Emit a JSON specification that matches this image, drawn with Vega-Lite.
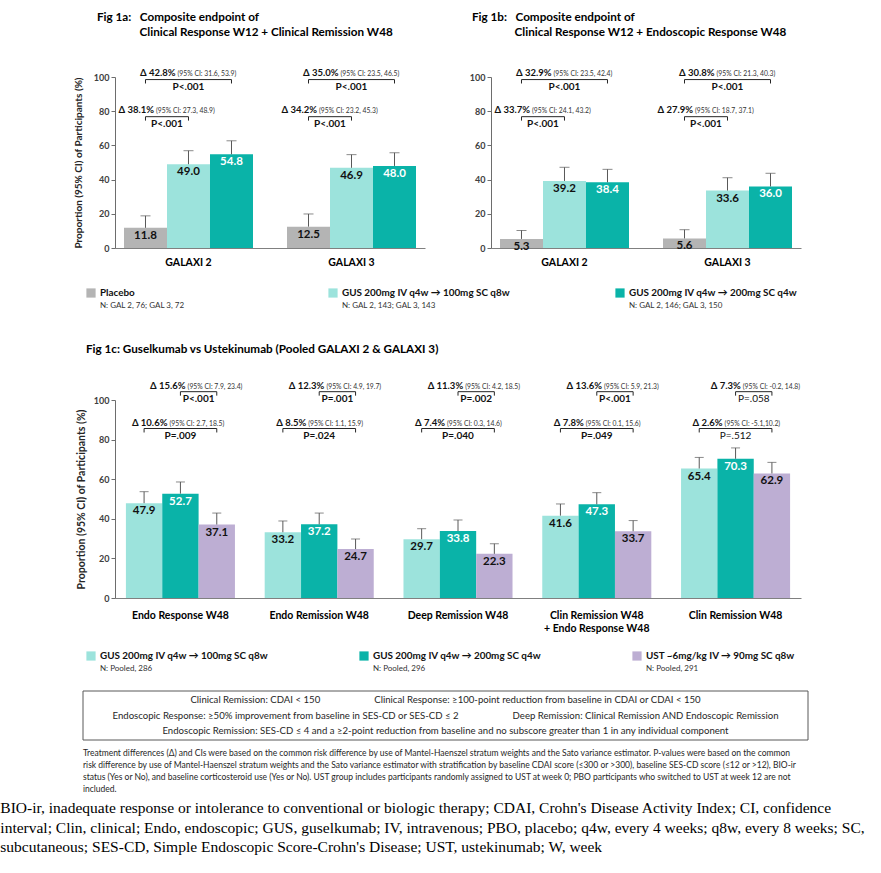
{
  "$schema": "https://vega.github.io/schema/vega-lite/v6.json",
  "padding": {"left": 0, "top": 12, "right": 0, "bottom": 0},
  "title": {
    "text": [
      "BIO-ir, inadequate response or intolerance to conventional or biologic therapy; CDAI, Crohn's Disease Activity Index; CI, confidence",
      "interval; Clin, clinical; Endo, endoscopic; GUS, guselkumab; IV, intravenous; PBO, placebo; q4w, every 4 weeks; q8w, every 8 weeks; SC,",
      "subcutaneous; SES-CD, Simple Endoscopic Score-Crohn's Disease; UST, ustekinumab; W, week"
    ],
    "orient": "bottom", "anchor": "start", "frame": "bounds", "dx": -73, "offset": 8,
    "font": "Liberation Serif", "fontSize": 15.5, "fontWeight": "normal", "lineHeight": 19.5, "color": "#000000"
  },
  "spacing": 33,
  "vconcat": [
    {
      "spacing": 20,
      "vconcat": [
        {
          "spacing": 44,
          "hconcat": [
            {
              "width": 310, "height": 171,
              "title": {
                "text": ["Fig 1a:\u00a0\u00a0\u00a0Composite endpoint of", "\u200b\u00a0\u00a0\u00a0\u00a0\u00a0\u00a0\u00a0\u00a0\u00a0\u00a0\u00a0\u00a0\u00a0\u00a0\u00a0Clinical Response W12 + Clinical Remission W48"],
                "anchor": "start", "frame": "group", "dx": -18, "offset": 29, "fontSize": 11.7, "fontWeight": "bold", "lineHeight": 15, "color": "#000000"
              },
              "layer": [
                {
                  "data": {"name": "bars1a"},
                  "mark": {"type": "bar"},
                  "encoding": {
                    "x": {"field": "group", "type": "nominal", "sort": ["GALAXI 2", "GALAXI 3"], "scale": {"paddingInner": 0.2086, "paddingOuter": 0.0552},
                      "axis": {"title": null, "labelAngle": 0, "ticks": false, "labelPadding": 9, "labelFontSize": 10.5, "labelFontWeight": "bold", "labelColor": "#000000", "domainColor": "#808080"}},
                    "xOffset": {"field": "series", "type": "nominal", "sort": ["Placebo", "GUS 200mg IV q4w → 100mg SC q8w", "GUS 200mg IV q4w → 200mg SC q4w"], "scale": {"type": "band", "paddingInner": 0, "paddingOuter": 0}},
                    "y": {"field": "value", "type": "quantitative", "scale": {"domain": [0, 100], "nice": false},
                      "axis": {"values": [0, 20, 40, 60, 80, 100], "labelOverlap": false, "title": "Proportion (95% CI) of Participants (%)", "titleFontSize": 10, "titlePadding": 10}},
                    "color": {"field": "series", "type": "nominal", "scale": {"domain": ["Placebo", "GUS 200mg IV q4w → 100mg SC q8w", "GUS 200mg IV q4w → 200mg SC q4w", "UST ~6mg/kg IV → 90mg SC q8w"], "range": ["#b4b4b4", "#9ce3dc", "#0ab3a8", "#bdaed3"]}, "legend": null}
                  }
                },
                {
                  "data": {"name": "bars1a"},
                  "mark": {"type": "rule", "color": "#595959", "strokeWidth": 1},
                  "encoding": {
                    "x": {"field": "group", "type": "nominal", "sort": ["GALAXI 2", "GALAXI 3"]},
                    "xOffset": {"field": "series", "type": "nominal", "sort": ["Placebo", "GUS 200mg IV q4w → 100mg SC q8w", "GUS 200mg IV q4w → 200mg SC q4w"], "scale": {"type": "band", "paddingInner": 0, "paddingOuter": 0}},
                    "y": {"field": "value", "type": "quantitative", "scale": {"domain": [0, 100], "nice": false}, "axis": {"values": [0, 20, 40, 60, 80, 100], "labelOverlap": false, "title": "Proportion (95% CI) of Participants (%)", "titleFontSize": 10, "titlePadding": 10}},
                    "y2": {"field": "hi"}
                  }
                },
                {
                  "data": {"name": "bars1a"},
                  "mark": {"type": "tick", "color": "#595959", "size": 10, "thickness": 1, "orient": "horizontal"},
                  "encoding": {
                    "x": {"field": "group", "type": "nominal", "sort": ["GALAXI 2", "GALAXI 3"]},
                    "xOffset": {"field": "series", "type": "nominal", "sort": ["Placebo", "GUS 200mg IV q4w → 100mg SC q8w", "GUS 200mg IV q4w → 200mg SC q4w"], "scale": {"type": "band", "paddingInner": 0, "paddingOuter": 0}},
                    "y": {"field": "hi", "type": "quantitative", "scale": {"domain": [0, 100], "nice": false}, "axis": {"values": [0, 20, 40, 60, 80, 100], "labelOverlap": false, "title": "Proportion (95% CI) of Participants (%)", "titleFontSize": 10, "titlePadding": 10}}
                  }
                },
                {
                  "data": {"name": "bars1a"},
                  "mark": {"type": "text", "baseline": "top", "dy": 2, "fontSize": 11.5, "fontWeight": "bold"},
                  "encoding": {
                    "x": {"field": "group", "type": "nominal", "sort": ["GALAXI 2", "GALAXI 3"]},
                    "xOffset": {"field": "series", "type": "nominal", "sort": ["Placebo", "GUS 200mg IV q4w → 100mg SC q8w", "GUS 200mg IV q4w → 200mg SC q4w"], "scale": {"type": "point", "padding": 0.5}},
                    "y": {"field": "value", "type": "quantitative", "scale": {"domain": [0, 100], "nice": false}, "axis": {"values": [0, 20, 40, 60, 80, 100], "labelOverlap": false, "title": "Proportion (95% CI) of Participants (%)", "titleFontSize": 10, "titlePadding": 10}},
                    "text": {"field": "value", "type": "quantitative", "format": ".1f"},
                    "color": {"condition": {"test": "datum.series === 'GUS 200mg IV q4w → 200mg SC q4w'", "value": "#ffffff"}, "value": "#111111"}
                  }
                },
                {
                  "data": {"name": "ann1a"},
                  "transform": [{"fold": ["from", "to"], "as": ["end", "pos"]}],
                  "mark": {"type": "line", "color": "#262626", "strokeWidth": 1},
                  "encoding": {
                    "x": {"field": "group", "type": "nominal", "sort": ["GALAXI 2", "GALAXI 3"]},
                    "xOffset": {"field": "pos", "type": "nominal", "scale": {"type": "point", "domain": ["e0", "c0", "e1", "c1", "e2", "c2", "e3"], "padding": 0}},
                    "y": {"field": "yLine", "type": "quantitative", "scale": {"domain": [0, 100], "nice": false}, "axis": {"values": [0, 20, 40, 60, 80, 100], "labelOverlap": false, "title": "Proportion (95% CI) of Participants (%)", "titleFontSize": 10, "titlePadding": 10}},
                    "detail": {"field": "bid"}
                  }
                },
                {
                  "data": {"name": "ann1a"},
                  "transform": [{"fold": ["from", "to"], "as": ["end", "pos"]}],
                  "mark": {"type": "rule", "color": "#262626", "strokeWidth": 1},
                  "encoding": {
                    "x": {"field": "group", "type": "nominal", "sort": ["GALAXI 2", "GALAXI 3"]},
                    "xOffset": {"field": "pos", "type": "nominal", "scale": {"type": "point", "domain": ["e0", "c0", "e1", "c1", "e2", "c2", "e3"], "padding": 0}},
                    "y": {"field": "yLine", "type": "quantitative", "scale": {"domain": [0, 100], "nice": false}, "axis": {"values": [0, 20, 40, 60, 80, 100], "labelOverlap": false, "title": "Proportion (95% CI) of Participants (%)", "titleFontSize": 10, "titlePadding": 10}},
                    "y2": {"field": "yLeg"}
                  }
                },
                {
                  "data": {"name": "ann1a"},
                  "mark": {"type": "text", "align": "right", "baseline": "alphabetic", "dx": -13, "dy": -3.5, "fontSize": 9.5, "fontWeight": "bold", "color": "#111111"},
                  "encoding": {
                    "x": {"field": "group", "type": "nominal", "sort": ["GALAXI 2", "GALAXI 3"]},
                    "xOffset": {"field": "mid", "type": "nominal", "scale": {"type": "point", "domain": ["e0", "c0", "e1", "c1", "e2", "c2", "e3"], "padding": 0}},
                    "y": {"field": "yLine", "type": "quantitative", "scale": {"domain": [0, 100], "nice": false}, "axis": {"values": [0, 20, 40, 60, 80, 100], "labelOverlap": false, "title": "Proportion (95% CI) of Participants (%)", "titleFontSize": 10, "titlePadding": 10}},
                    "text": {"field": "delta"}
                  }
                },
                {
                  "data": {"name": "ann1a"},
                  "mark": {"type": "text", "align": "left", "baseline": "alphabetic", "dx": -11, "dy": -3.5, "fontSize": 6.8, "color": "#333333"},
                  "encoding": {
                    "x": {"field": "group", "type": "nominal", "sort": ["GALAXI 2", "GALAXI 3"]},
                    "xOffset": {"field": "mid", "type": "nominal", "scale": {"type": "point", "domain": ["e0", "c0", "e1", "c1", "e2", "c2", "e3"], "padding": 0}},
                    "y": {"field": "yLine", "type": "quantitative", "scale": {"domain": [0, 100], "nice": false}, "axis": {"values": [0, 20, 40, 60, 80, 100], "labelOverlap": false, "title": "Proportion (95% CI) of Participants (%)", "titleFontSize": 10, "titlePadding": 10}},
                    "text": {"field": "ci"}
                  }
                },
                {
                  "data": {"name": "ann1a"},
                  "mark": {"type": "text", "align": "center", "baseline": "alphabetic", "dy": 10, "fontSize": 10, "fontWeight": "bold", "color": "#111111"},
                  "encoding": {
                    "x": {"field": "group", "type": "nominal", "sort": ["GALAXI 2", "GALAXI 3"]},
                    "xOffset": {"field": "mid", "type": "nominal", "scale": {"type": "point", "domain": ["e0", "c0", "e1", "c1", "e2", "c2", "e3"], "padding": 0}},
                    "y": {"field": "yLine", "type": "quantitative", "scale": {"domain": [0, 100], "nice": false}, "axis": {"values": [0, 20, 40, 60, 80, 100], "labelOverlap": false, "title": "Proportion (95% CI) of Participants (%)", "titleFontSize": 10, "titlePadding": 10}},
                    "text": {"field": "p"}
                  }
                }
              ],
              "resolve": {"scale": {"xOffset": "independent"}}
            },
            {
              "width": 310, "height": 171,
              "title": {
                "text": ["Fig 1b:\u00a0\u00a0\u00a0Composite endpoint of", "\u200b\u00a0\u00a0\u00a0\u00a0\u00a0\u00a0\u00a0\u00a0\u00a0\u00a0\u00a0\u00a0\u00a0\u00a0\u00a0Clinical Response W12 + Endoscopic Response W48"],
                "anchor": "start", "frame": "group", "dx": -19, "offset": 29, "fontSize": 11.7, "fontWeight": "bold", "lineHeight": 15, "color": "#000000"
              },
              "layer": [
                {
                  "data": {"name": "bars1b"},
                  "mark": {"type": "bar"},
                  "encoding": {
                    "x": {"field": "group", "type": "nominal", "sort": ["GALAXI 2", "GALAXI 3"], "scale": {"paddingInner": 0.2086, "paddingOuter": 0.0552},
                      "axis": {"title": null, "labelAngle": 0, "ticks": false, "labelPadding": 9, "labelFontSize": 10.5, "labelFontWeight": "bold", "labelColor": "#000000", "domainColor": "#808080"}},
                    "xOffset": {"field": "series", "type": "nominal", "sort": ["Placebo", "GUS 200mg IV q4w → 100mg SC q8w", "GUS 200mg IV q4w → 200mg SC q4w"], "scale": {"type": "band", "paddingInner": 0, "paddingOuter": 0}},
                    "y": {"field": "value", "type": "quantitative", "scale": {"domain": [0, 100], "nice": false}, "axis": {"values": [0, 20, 40, 60, 80, 100], "labelOverlap": false, "title": null}},
                    "color": {"field": "series", "type": "nominal", "scale": {"domain": ["Placebo", "GUS 200mg IV q4w → 100mg SC q8w", "GUS 200mg IV q4w → 200mg SC q4w", "UST ~6mg/kg IV → 90mg SC q8w"], "range": ["#b4b4b4", "#9ce3dc", "#0ab3a8", "#bdaed3"]}, "legend": null}
                  }
                },
                {
                  "data": {"name": "bars1b"},
                  "mark": {"type": "rule", "color": "#595959", "strokeWidth": 1},
                  "encoding": {
                    "x": {"field": "group", "type": "nominal", "sort": ["GALAXI 2", "GALAXI 3"]},
                    "xOffset": {"field": "series", "type": "nominal", "sort": ["Placebo", "GUS 200mg IV q4w → 100mg SC q8w", "GUS 200mg IV q4w → 200mg SC q4w"], "scale": {"type": "band", "paddingInner": 0, "paddingOuter": 0}},
                    "y": {"field": "value", "type": "quantitative", "scale": {"domain": [0, 100], "nice": false}, "axis": {"values": [0, 20, 40, 60, 80, 100], "labelOverlap": false, "title": null}},
                    "y2": {"field": "hi"}
                  }
                },
                {
                  "data": {"name": "bars1b"},
                  "mark": {"type": "tick", "color": "#595959", "size": 10, "thickness": 1, "orient": "horizontal"},
                  "encoding": {
                    "x": {"field": "group", "type": "nominal", "sort": ["GALAXI 2", "GALAXI 3"]},
                    "xOffset": {"field": "series", "type": "nominal", "sort": ["Placebo", "GUS 200mg IV q4w → 100mg SC q8w", "GUS 200mg IV q4w → 200mg SC q4w"], "scale": {"type": "band", "paddingInner": 0, "paddingOuter": 0}},
                    "y": {"field": "hi", "type": "quantitative", "scale": {"domain": [0, 100], "nice": false}, "axis": {"values": [0, 20, 40, 60, 80, 100], "labelOverlap": false, "title": null}}
                  }
                },
                {
                  "data": {"name": "bars1b"},
                  "mark": {"type": "text", "baseline": "top", "dy": 2, "fontSize": 11.5, "fontWeight": "bold"},
                  "encoding": {
                    "x": {"field": "group", "type": "nominal", "sort": ["GALAXI 2", "GALAXI 3"]},
                    "xOffset": {"field": "series", "type": "nominal", "sort": ["Placebo", "GUS 200mg IV q4w → 100mg SC q8w", "GUS 200mg IV q4w → 200mg SC q4w"], "scale": {"type": "point", "padding": 0.5}},
                    "y": {"field": "value", "type": "quantitative", "scale": {"domain": [0, 100], "nice": false}, "axis": {"values": [0, 20, 40, 60, 80, 100], "labelOverlap": false, "title": null}},
                    "text": {"field": "value", "type": "quantitative", "format": ".1f"},
                    "color": {"condition": {"test": "datum.series === 'GUS 200mg IV q4w → 200mg SC q4w'", "value": "#ffffff"}, "value": "#111111"}
                  }
                },
                {
                  "data": {"name": "ann1b"},
                  "transform": [{"fold": ["from", "to"], "as": ["end", "pos"]}],
                  "mark": {"type": "line", "color": "#262626", "strokeWidth": 1},
                  "encoding": {
                    "x": {"field": "group", "type": "nominal", "sort": ["GALAXI 2", "GALAXI 3"]},
                    "xOffset": {"field": "pos", "type": "nominal", "scale": {"type": "point", "domain": ["e0", "c0", "e1", "c1", "e2", "c2", "e3"], "padding": 0}},
                    "y": {"field": "yLine", "type": "quantitative", "scale": {"domain": [0, 100], "nice": false}, "axis": {"values": [0, 20, 40, 60, 80, 100], "labelOverlap": false, "title": null}},
                    "detail": {"field": "bid"}
                  }
                },
                {
                  "data": {"name": "ann1b"},
                  "transform": [{"fold": ["from", "to"], "as": ["end", "pos"]}],
                  "mark": {"type": "rule", "color": "#262626", "strokeWidth": 1},
                  "encoding": {
                    "x": {"field": "group", "type": "nominal", "sort": ["GALAXI 2", "GALAXI 3"]},
                    "xOffset": {"field": "pos", "type": "nominal", "scale": {"type": "point", "domain": ["e0", "c0", "e1", "c1", "e2", "c2", "e3"], "padding": 0}},
                    "y": {"field": "yLine", "type": "quantitative", "scale": {"domain": [0, 100], "nice": false}, "axis": {"values": [0, 20, 40, 60, 80, 100], "labelOverlap": false, "title": null}},
                    "y2": {"field": "yLeg"}
                  }
                },
                {
                  "data": {"name": "ann1b"},
                  "mark": {"type": "text", "align": "right", "baseline": "alphabetic", "dx": -13, "dy": -3.5, "fontSize": 9.5, "fontWeight": "bold", "color": "#111111"},
                  "encoding": {
                    "x": {"field": "group", "type": "nominal", "sort": ["GALAXI 2", "GALAXI 3"]},
                    "xOffset": {"field": "mid", "type": "nominal", "scale": {"type": "point", "domain": ["e0", "c0", "e1", "c1", "e2", "c2", "e3"], "padding": 0}},
                    "y": {"field": "yLine", "type": "quantitative", "scale": {"domain": [0, 100], "nice": false}, "axis": {"values": [0, 20, 40, 60, 80, 100], "labelOverlap": false, "title": null}},
                    "text": {"field": "delta"}
                  }
                },
                {
                  "data": {"name": "ann1b"},
                  "mark": {"type": "text", "align": "left", "baseline": "alphabetic", "dx": -11, "dy": -3.5, "fontSize": 6.8, "color": "#333333"},
                  "encoding": {
                    "x": {"field": "group", "type": "nominal", "sort": ["GALAXI 2", "GALAXI 3"]},
                    "xOffset": {"field": "mid", "type": "nominal", "scale": {"type": "point", "domain": ["e0", "c0", "e1", "c1", "e2", "c2", "e3"], "padding": 0}},
                    "y": {"field": "yLine", "type": "quantitative", "scale": {"domain": [0, 100], "nice": false}, "axis": {"values": [0, 20, 40, 60, 80, 100], "labelOverlap": false, "title": null}},
                    "text": {"field": "ci"}
                  }
                },
                {
                  "data": {"name": "ann1b"},
                  "mark": {"type": "text", "align": "center", "baseline": "alphabetic", "dy": 10, "fontSize": 10, "fontWeight": "bold", "color": "#111111"},
                  "encoding": {
                    "x": {"field": "group", "type": "nominal", "sort": ["GALAXI 2", "GALAXI 3"]},
                    "xOffset": {"field": "mid", "type": "nominal", "scale": {"type": "point", "domain": ["e0", "c0", "e1", "c1", "e2", "c2", "e3"], "padding": 0}},
                    "y": {"field": "yLine", "type": "quantitative", "scale": {"domain": [0, 100], "nice": false}, "axis": {"values": [0, 20, 40, 60, 80, 100], "labelOverlap": false, "title": null}},
                    "text": {"field": "p"}
                  }
                }
              ],
              "resolve": {"scale": {"xOffset": "independent"}}
            }
          ]
        },
        {
          "spacing": 104,
          "hconcat": [
            {
              "width": 242, "height": 10,
              "data": {"name": "leg1a"},
              "encoding": {"x": {"field": "item", "type": "nominal", "sort": null, "scale": {"type": "point", "padding": 0, "range": [-24, 218]}, "axis": null}},
              "layer": [
                {"mark": {"type": "point", "shape": "square", "filled": true, "size": 85, "opacity": 1},
                 "encoding": {"color": {"field": "item", "type": "nominal", "scale": {"domain": ["Placebo", "GUS 200mg IV q4w → 100mg SC q8w", "GUS 200mg IV q4w → 200mg SC q4w", "UST ~6mg/kg IV → 90mg SC q8w"], "range": ["#b4b4b4", "#9ce3dc", "#0ab3a8", "#bdaed3"]}, "legend": null}}},
                {"mark": {"type": "text", "align": "left", "baseline": "middle", "dx": 9, "fontSize": 9.9, "fontWeight": "bold", "color": "#111111"},
                 "encoding": {"text": {"field": "item"}}},
                {"mark": {"type": "text", "align": "left", "baseline": "middle", "dx": 9, "dy": 13, "fontSize": 8, "color": "#333333"},
                 "encoding": {"text": {"field": "n"}}}
              ]
            },
            {
              "width": 10, "height": 10,
              "data": {"name": "leg1b"},
              "layer": [
                {"mark": {"type": "point", "shape": "square", "filled": true, "size": 85, "opacity": 1, "color": "#0ab3a8"}},
                {"mark": {"type": "text", "align": "left", "baseline": "middle", "dx": 9, "fontSize": 9.9, "fontWeight": "bold", "color": "#111111"},
                 "encoding": {"text": {"field": "item"}}},
                {"mark": {"type": "text", "align": "left", "baseline": "middle", "dx": 9, "dy": 13, "fontSize": 8, "color": "#333333"},
                 "encoding": {"text": {"field": "n"}}}
              ]
            }
          ]
        }
      ]
    },
    {
      "spacing": 17,
      "vconcat": [
        {
          "width": 686, "height": 198,
          "title": {
            "text": "Fig 1c: Guselkumab vs Ustekinumab (Pooled GALAXI 2 & GALAXI 3)",
            "anchor": "start", "frame": "group", "dx": -29, "offset": 25, "fontSize": 11.7, "fontWeight": "bold", "color": "#000000"
          },
          "layer": [
            {
              "data": {"name": "bars1c"},
              "mark": {"type": "bar"},
              "encoding": {
                "x": {"field": "group", "type": "nominal", "sort": ["Endo Response W48", "Endo Remission W48", "Deep Remission W48", "Clin Remission W48 + Endo Response W48", "Clin Remission W48"], "scale": {"paddingInner": 0.2143, "paddingOuter": 0.0786},
                  "axis": {"title": null, "labelAngle": 0, "ticks": false, "labelPadding": 12, "labelFontSize": 10.5, "labelFontWeight": "bold", "labelColor": "#000000", "domainColor": "#808080", "labelLineHeight": 13,
                    "labelExpr": "indexof(datum.label, ' + ') > 0 ? [substring(datum.label, 0, indexof(datum.label, ' + ')), substring(datum.label, indexof(datum.label, ' + ') + 1)] : datum.label"}},
                "xOffset": {"field": "series", "type": "nominal", "sort": ["GUS 200mg IV q4w → 100mg SC q8w", "GUS 200mg IV q4w → 200mg SC q4w", "UST ~6mg/kg IV → 90mg SC q8w"], "scale": {"type": "band", "paddingInner": 0, "paddingOuter": 0}},
                "y": {"field": "value", "type": "quantitative", "scale": {"domain": [0, 100], "nice": false}, "axis": {"values": [0, 20, 40, 60, 80, 100], "labelOverlap": false, "title": "Proportion (95% CI) of Participants (%)", "titleFontSize": 10.5, "titlePadding": 7}},
                "color": {"field": "series", "type": "nominal", "scale": {"domain": ["Placebo", "GUS 200mg IV q4w → 100mg SC q8w", "GUS 200mg IV q4w → 200mg SC q4w", "UST ~6mg/kg IV → 90mg SC q8w"], "range": ["#b4b4b4", "#9ce3dc", "#0ab3a8", "#bdaed3"]}, "legend": null}
              }
            },
            {
              "data": {"name": "bars1c"},
              "mark": {"type": "rule", "color": "#595959", "strokeWidth": 1},
              "encoding": {
                "x": {"field": "group", "type": "nominal", "sort": ["Endo Response W48", "Endo Remission W48", "Deep Remission W48", "Clin Remission W48 + Endo Response W48", "Clin Remission W48"]},
                "xOffset": {"field": "series", "type": "nominal", "sort": ["GUS 200mg IV q4w → 100mg SC q8w", "GUS 200mg IV q4w → 200mg SC q4w", "UST ~6mg/kg IV → 90mg SC q8w"], "scale": {"type": "band", "paddingInner": 0, "paddingOuter": 0}},
                "y": {"field": "value", "type": "quantitative", "scale": {"domain": [0, 100], "nice": false}, "axis": {"values": [0, 20, 40, 60, 80, 100], "labelOverlap": false, "title": "Proportion (95% CI) of Participants (%)", "titleFontSize": 10.5, "titlePadding": 7}},
                "y2": {"field": "hi"}
              }
            },
            {
              "data": {"name": "bars1c"},
              "mark": {"type": "tick", "color": "#595959", "size": 9, "thickness": 1, "orient": "horizontal"},
              "encoding": {
                "x": {"field": "group", "type": "nominal", "sort": ["Endo Response W48", "Endo Remission W48", "Deep Remission W48", "Clin Remission W48 + Endo Response W48", "Clin Remission W48"]},
                "xOffset": {"field": "series", "type": "nominal", "sort": ["GUS 200mg IV q4w → 100mg SC q8w", "GUS 200mg IV q4w → 200mg SC q4w", "UST ~6mg/kg IV → 90mg SC q8w"], "scale": {"type": "band", "paddingInner": 0, "paddingOuter": 0}},
                "y": {"field": "hi", "type": "quantitative", "scale": {"domain": [0, 100], "nice": false}, "axis": {"values": [0, 20, 40, 60, 80, 100], "labelOverlap": false, "title": "Proportion (95% CI) of Participants (%)", "titleFontSize": 10.5, "titlePadding": 7}}
              }
            },
            {
              "data": {"name": "bars1c"},
              "mark": {"type": "text", "baseline": "top", "dy": 2, "fontSize": 11.5, "fontWeight": "bold"},
              "encoding": {
                "x": {"field": "group", "type": "nominal", "sort": ["Endo Response W48", "Endo Remission W48", "Deep Remission W48", "Clin Remission W48 + Endo Response W48", "Clin Remission W48"]},
                "xOffset": {"field": "series", "type": "nominal", "sort": ["GUS 200mg IV q4w → 100mg SC q8w", "GUS 200mg IV q4w → 200mg SC q4w", "UST ~6mg/kg IV → 90mg SC q8w"], "scale": {"type": "point", "padding": 0.5}},
                "y": {"field": "value", "type": "quantitative", "scale": {"domain": [0, 100], "nice": false}, "axis": {"values": [0, 20, 40, 60, 80, 100], "labelOverlap": false, "title": "Proportion (95% CI) of Participants (%)", "titleFontSize": 10.5, "titlePadding": 7}},
                "text": {"field": "value", "type": "quantitative", "format": ".1f"},
                "color": {"condition": {"test": "datum.series === 'GUS 200mg IV q4w → 200mg SC q4w'", "value": "#ffffff"}, "value": "#111111"}
              }
            },
            {
              "data": {"name": "ann1c"},
              "transform": [{"fold": ["from", "to"], "as": ["end", "pos"]}],
              "mark": {"type": "line", "color": "#262626", "strokeWidth": 1},
              "encoding": {
                "x": {"field": "group", "type": "nominal", "sort": ["Endo Response W48", "Endo Remission W48", "Deep Remission W48", "Clin Remission W48 + Endo Response W48", "Clin Remission W48"]},
                "xOffset": {"field": "pos", "type": "nominal", "scale": {"type": "point", "domain": ["e0", "c0", "e1", "c1", "e2", "c2", "e3"], "padding": 0}},
                "y": {"field": "yLine", "type": "quantitative", "scale": {"domain": [0, 100], "nice": false}, "axis": {"values": [0, 20, 40, 60, 80, 100], "labelOverlap": false, "title": "Proportion (95% CI) of Participants (%)", "titleFontSize": 10.5, "titlePadding": 7}},
                "detail": {"field": "bid"}
              }
            },
            {
              "data": {"name": "ann1c"},
              "transform": [{"fold": ["from", "to"], "as": ["end", "pos"]}],
              "mark": {"type": "rule", "color": "#262626", "strokeWidth": 1},
              "encoding": {
                "x": {"field": "group", "type": "nominal", "sort": ["Endo Response W48", "Endo Remission W48", "Deep Remission W48", "Clin Remission W48 + Endo Response W48", "Clin Remission W48"]},
                "xOffset": {"field": "pos", "type": "nominal", "scale": {"type": "point", "domain": ["e0", "c0", "e1", "c1", "e2", "c2", "e3"], "padding": 0}},
                "y": {"field": "yLine", "type": "quantitative", "scale": {"domain": [0, 100], "nice": false}, "axis": {"values": [0, 20, 40, 60, 80, 100], "labelOverlap": false, "title": "Proportion (95% CI) of Participants (%)", "titleFontSize": 10.5, "titlePadding": 7}},
                "y2": {"field": "yLeg"}
              }
            },
            {
              "data": {"name": "ann1c"},
              "mark": {"type": "text", "align": "right", "baseline": "alphabetic", "dx": -13, "dy": -3, "fontSize": 9.5, "fontWeight": "bold", "color": "#111111"},
              "encoding": {
                "x": {"field": "group", "type": "nominal", "sort": ["Endo Response W48", "Endo Remission W48", "Deep Remission W48", "Clin Remission W48 + Endo Response W48", "Clin Remission W48"]},
                "xOffset": {"field": "mid", "type": "nominal", "scale": {"type": "point", "domain": ["e0", "c0", "e1", "c1", "e2", "c2", "e3"], "padding": 0}},
                "y": {"field": "yLine", "type": "quantitative", "scale": {"domain": [0, 100], "nice": false}, "axis": {"values": [0, 20, 40, 60, 80, 100], "labelOverlap": false, "title": "Proportion (95% CI) of Participants (%)", "titleFontSize": 10.5, "titlePadding": 7}},
                "text": {"field": "delta"}
              }
            },
            {
              "data": {"name": "ann1c"},
              "mark": {"type": "text", "align": "left", "baseline": "alphabetic", "dx": -11, "dy": -3, "fontSize": 6.8, "color": "#333333"},
              "encoding": {
                "x": {"field": "group", "type": "nominal", "sort": ["Endo Response W48", "Endo Remission W48", "Deep Remission W48", "Clin Remission W48 + Endo Response W48", "Clin Remission W48"]},
                "xOffset": {"field": "mid", "type": "nominal", "scale": {"type": "point", "domain": ["e0", "c0", "e1", "c1", "e2", "c2", "e3"], "padding": 0}},
                "y": {"field": "yLine", "type": "quantitative", "scale": {"domain": [0, 100], "nice": false}, "axis": {"values": [0, 20, 40, 60, 80, 100], "labelOverlap": false, "title": "Proportion (95% CI) of Participants (%)", "titleFontSize": 10.5, "titlePadding": 7}},
                "text": {"field": "ci"}
              }
            },
            {
              "data": {"name": "ann1c"},
              "transform": [{"filter": "datum.sig"}],
              "mark": {"type": "text", "align": "center", "baseline": "alphabetic", "dy": 10, "fontSize": 10, "fontWeight": "bold", "color": "#111111"},
              "encoding": {
                "x": {"field": "group", "type": "nominal", "sort": ["Endo Response W48", "Endo Remission W48", "Deep Remission W48", "Clin Remission W48 + Endo Response W48", "Clin Remission W48"]},
                "xOffset": {"field": "mid", "type": "nominal", "scale": {"type": "point", "domain": ["e0", "c0", "e1", "c1", "e2", "c2", "e3"], "padding": 0}},
                "y": {"field": "yLine", "type": "quantitative", "scale": {"domain": [0, 100], "nice": false}, "axis": {"values": [0, 20, 40, 60, 80, 100], "labelOverlap": false, "title": "Proportion (95% CI) of Participants (%)", "titleFontSize": 10.5, "titlePadding": 7}},
                "text": {"field": "p"}
              }
            },
            {
              "data": {"name": "ann1c"},
              "transform": [{"filter": "!datum.sig"}],
              "mark": {"type": "text", "align": "center", "baseline": "alphabetic", "dy": 10, "fontSize": 10, "fontWeight": "normal", "color": "#111111"},
              "encoding": {
                "x": {"field": "group", "type": "nominal", "sort": ["Endo Response W48", "Endo Remission W48", "Deep Remission W48", "Clin Remission W48 + Endo Response W48", "Clin Remission W48"]},
                "xOffset": {"field": "mid", "type": "nominal", "scale": {"type": "point", "domain": ["e0", "c0", "e1", "c1", "e2", "c2", "e3"], "padding": 0}},
                "y": {"field": "yLine", "type": "quantitative", "scale": {"domain": [0, 100], "nice": false}, "axis": {"values": [0, 20, 40, 60, 80, 100], "labelOverlap": false, "title": "Proportion (95% CI) of Participants (%)", "titleFontSize": 10.5, "titlePadding": 7}},
                "text": {"field": "p"}
              }
            }
          ],
          "resolve": {"scale": {"xOffset": "independent"}}
        },
        {
          "width": 546, "height": 10,
          "data": {"name": "leg2"},
          "encoding": {"x": {"field": "item", "type": "nominal", "sort": null, "scale": {"type": "point", "padding": 0, "range": [-24, 522]}, "axis": null}},
          "layer": [
            {"mark": {"type": "point", "shape": "square", "filled": true, "size": 85, "opacity": 1},
             "encoding": {"color": {"field": "item", "type": "nominal", "scale": {"domain": ["Placebo", "GUS 200mg IV q4w → 100mg SC q8w", "GUS 200mg IV q4w → 200mg SC q4w", "UST ~6mg/kg IV → 90mg SC q8w"], "range": ["#b4b4b4", "#9ce3dc", "#0ab3a8", "#bdaed3"]}, "legend": null}}},
            {"mark": {"type": "text", "align": "left", "baseline": "middle", "dx": 9, "fontSize": 9.9, "fontWeight": "bold", "color": "#111111"},
             "encoding": {"text": {"field": "item"}}},
            {"mark": {"type": "text", "align": "left", "baseline": "middle", "dx": 9, "dy": 13, "fontSize": 8, "color": "#333333"},
             "encoding": {"text": {"field": "n"}}}
          ]
        },
        {
          "width": 693, "height": 49,
          "title": {
            "text": [
              "Treatment differences (Δ) and CIs were based on the common risk difference by use of Mantel-Haenszel stratum weights and the Sato variance estimator. P-values were based on the common",
              "risk difference by use of Mantel-Haenszel stratum weights and the Sato variance estimator with stratification by baseline CDAI score (≤300 or >300), baseline SES-CD score (≤12 or >12), BIO-ir",
              "status (Yes or No), and baseline corticosteroid use (Yes or No). UST group includes participants randomly assigned to UST at week 0; PBO participants who switched to UST at week 12 are not",
              "included."
            ],
            "orient": "bottom", "anchor": "start", "frame": "group", "dx": -32, "offset": 8, "fontSize": 8.5, "fontWeight": "normal", "lineHeight": 12, "color": "#262626"
          },
          "layer": [
            {
              "data": {"name": "box"},
              "mark": {"type": "rect", "fill": null, "stroke": "#595959", "strokeWidth": 1},
              "encoding": {
                "x": {"datum": 0, "type": "quantitative", "scale": {"domain": [0, 1], "range": [-32, 693], "nice": false, "zero": false}, "axis": null},
                "x2": {"datum": 1}
              }
            },
            {
              "data": {"name": "defs"},
              "mark": {"type": "text", "fontSize": 9.6, "color": "#262626"},
              "encoding": {
                "x": {"datum": 0.5, "type": "quantitative"},
                "y": {"field": "line", "type": "ordinal", "scale": {"padding": 0.55}, "axis": null},
                "text": {"field": "text"}
              }
            }
          ]
        }
      ]
    }
  ],
  "datasets": {
    "bars1a": [
      {"group": "GALAXI 2", "series": "Placebo", "value": 11.8, "hi": 18.8},
      {"group": "GALAXI 2", "series": "GUS 200mg IV q4w → 100mg SC q8w", "value": 49.0, "hi": 56.9},
      {"group": "GALAXI 2", "series": "GUS 200mg IV q4w → 200mg SC q4w", "value": 54.8, "hi": 62.7},
      {"group": "GALAXI 3", "series": "Placebo", "value": 12.5, "hi": 19.9},
      {"group": "GALAXI 3", "series": "GUS 200mg IV q4w → 100mg SC q8w", "value": 46.9, "hi": 54.6},
      {"group": "GALAXI 3", "series": "GUS 200mg IV q4w → 200mg SC q4w", "value": 48.0, "hi": 55.7}
    ],
    "bars1b": [
      {"group": "GALAXI 2", "series": "Placebo", "value": 5.3, "hi": 10.3},
      {"group": "GALAXI 2", "series": "GUS 200mg IV q4w → 100mg SC q8w", "value": 39.2, "hi": 47.2},
      {"group": "GALAXI 2", "series": "GUS 200mg IV q4w → 200mg SC q4w", "value": 38.4, "hi": 46.0},
      {"group": "GALAXI 3", "series": "Placebo", "value": 5.6, "hi": 10.7},
      {"group": "GALAXI 3", "series": "GUS 200mg IV q4w → 100mg SC q8w", "value": 33.6, "hi": 41.1},
      {"group": "GALAXI 3", "series": "GUS 200mg IV q4w → 200mg SC q4w", "value": 36.0, "hi": 43.7}
    ],
    "bars1c": [
      {"group": "Endo Response W48", "series": "GUS 200mg IV q4w → 100mg SC q8w", "value": 47.9, "hi": 53.7},
      {"group": "Endo Response W48", "series": "GUS 200mg IV q4w → 200mg SC q4w", "value": 52.7, "hi": 58.6},
      {"group": "Endo Response W48", "series": "UST ~6mg/kg IV → 90mg SC q8w", "value": 37.1, "hi": 42.9},
      {"group": "Endo Remission W48", "series": "GUS 200mg IV q4w → 100mg SC q8w", "value": 33.2, "hi": 38.9},
      {"group": "Endo Remission W48", "series": "GUS 200mg IV q4w → 200mg SC q4w", "value": 37.2, "hi": 42.9},
      {"group": "Endo Remission W48", "series": "UST ~6mg/kg IV → 90mg SC q8w", "value": 24.7, "hi": 29.8},
      {"group": "Deep Remission W48", "series": "GUS 200mg IV q4w → 100mg SC q8w", "value": 29.7, "hi": 35.0},
      {"group": "Deep Remission W48", "series": "GUS 200mg IV q4w → 200mg SC q4w", "value": 33.8, "hi": 39.4},
      {"group": "Deep Remission W48", "series": "UST ~6mg/kg IV → 90mg SC q8w", "value": 22.3, "hi": 27.4},
      {"group": "Clin Remission W48 + Endo Response W48", "series": "GUS 200mg IV q4w → 100mg SC q8w", "value": 41.6, "hi": 47.5},
      {"group": "Clin Remission W48 + Endo Response W48", "series": "GUS 200mg IV q4w → 200mg SC q4w", "value": 47.3, "hi": 53.2},
      {"group": "Clin Remission W48 + Endo Response W48", "series": "UST ~6mg/kg IV → 90mg SC q8w", "value": 33.7, "hi": 39.1},
      {"group": "Clin Remission W48", "series": "GUS 200mg IV q4w → 100mg SC q8w", "value": 65.4, "hi": 71.0},
      {"group": "Clin Remission W48", "series": "GUS 200mg IV q4w → 200mg SC q4w", "value": 70.3, "hi": 75.8},
      {"group": "Clin Remission W48", "series": "UST ~6mg/kg IV → 90mg SC q8w", "value": 62.9, "hi": 68.5}
    ],
    "ann1a": [
      {"group": "GALAXI 2", "bid": "g2u", "from": "c0", "to": "c2", "mid": "c1", "yLine": 98.5, "yLeg": 96.2, "delta": "Δ 42.8%", "ci": "(95% CI: 31.6, 53.9)", "p": "P<.001", "sig": true},
      {"group": "GALAXI 2", "bid": "g2l", "from": "c0", "to": "c1", "mid": "e1", "yLine": 76.8, "yLeg": 74.5, "delta": "Δ 38.1%", "ci": "(95% CI: 27.3, 48.9)", "p": "P<.001", "sig": true},
      {"group": "GALAXI 3", "bid": "g3u", "from": "c0", "to": "c2", "mid": "c1", "yLine": 98.5, "yLeg": 96.2, "delta": "Δ 35.0%", "ci": "(95% CI: 23.5, 46.5)", "p": "P<.001", "sig": true},
      {"group": "GALAXI 3", "bid": "g3l", "from": "c0", "to": "c1", "mid": "e1", "yLine": 76.8, "yLeg": 74.5, "delta": "Δ 34.2%", "ci": "(95% CI: 23.2, 45.3)", "p": "P<.001", "sig": true}
    ],
    "ann1b": [
      {"group": "GALAXI 2", "bid": "g2u", "from": "c0", "to": "c2", "mid": "c1", "yLine": 98.5, "yLeg": 96.2, "delta": "Δ 32.9%", "ci": "(95% CI: 23.5, 42.4)", "p": "P<.001", "sig": true},
      {"group": "GALAXI 2", "bid": "g2l", "from": "c0", "to": "c1", "mid": "e1", "yLine": 76.8, "yLeg": 74.5, "delta": "Δ 33.7%", "ci": "(95% CI: 24.1, 43.2)", "p": "P<.001", "sig": true},
      {"group": "GALAXI 3", "bid": "g3u", "from": "c0", "to": "c2", "mid": "c1", "yLine": 98.5, "yLeg": 96.2, "delta": "Δ 30.8%", "ci": "(95% CI: 21.3, 40.3)", "p": "P<.001", "sig": true},
      {"group": "GALAXI 3", "bid": "g3l", "from": "c0", "to": "c1", "mid": "e1", "yLine": 76.8, "yLeg": 74.5, "delta": "Δ 27.9%", "ci": "(95% CI: 18.7, 37.1)", "p": "P<.001", "sig": true}
    ],
    "ann1c": [
      {"group": "Endo Response W48", "bid": "e1u", "from": "c1", "to": "c2", "mid": "e2", "yLine": 104.2, "yLeg": 102.2, "delta": "Δ 15.6%", "ci": "(95% CI: 7.9, 23.4)", "p": "P<.001", "sig": true},
      {"group": "Endo Response W48", "bid": "e1l", "from": "c0", "to": "c2", "mid": "c1", "yLine": 85.6, "yLeg": 83.6, "delta": "Δ 10.6%", "ci": "(95% CI: 2.7, 18.5)", "p": "P=.009", "sig": true},
      {"group": "Endo Remission W48", "bid": "e2u", "from": "c1", "to": "c2", "mid": "e2", "yLine": 104.2, "yLeg": 102.2, "delta": "Δ 12.3%", "ci": "(95% CI: 4.9, 19.7)", "p": "P=.001", "sig": true},
      {"group": "Endo Remission W48", "bid": "e2l", "from": "c0", "to": "c2", "mid": "c1", "yLine": 85.6, "yLeg": 83.6, "delta": "Δ 8.5%", "ci": "(95% CI: 1.1, 15.9)", "p": "P=.024", "sig": true},
      {"group": "Deep Remission W48", "bid": "e3u", "from": "c1", "to": "c2", "mid": "e2", "yLine": 104.2, "yLeg": 102.2, "delta": "Δ 11.3%", "ci": "(95% CI: 4.2, 18.5)", "p": "P=.002", "sig": true},
      {"group": "Deep Remission W48", "bid": "e3l", "from": "c0", "to": "c2", "mid": "c1", "yLine": 85.6, "yLeg": 83.6, "delta": "Δ 7.4%", "ci": "(95% CI: 0.3, 14.6)", "p": "P=.040", "sig": true},
      {"group": "Clin Remission W48 + Endo Response W48", "bid": "e4u", "from": "c1", "to": "c2", "mid": "e2", "yLine": 104.2, "yLeg": 102.2, "delta": "Δ 13.6%", "ci": "(95% CI: 5.9, 21.3)", "p": "P<.001", "sig": true},
      {"group": "Clin Remission W48 + Endo Response W48", "bid": "e4l", "from": "c0", "to": "c2", "mid": "c1", "yLine": 85.6, "yLeg": 83.6, "delta": "Δ 7.8%", "ci": "(95% CI: 0.1, 15.6)", "p": "P=.049", "sig": true},
      {"group": "Clin Remission W48", "bid": "e5u", "from": "c1", "to": "c2", "mid": "e2", "yLine": 104.2, "yLeg": 102.2, "delta": "Δ 7.3%", "ci": "(95% CI: -0.2, 14.8)", "p": "P=.058", "sig": false},
      {"group": "Clin Remission W48", "bid": "e5l", "from": "c0", "to": "c2", "mid": "c1", "yLine": 85.6, "yLeg": 83.6, "delta": "Δ 2.6%", "ci": "(95% CI: -5.1,10.2)", "p": "P=.512", "sig": false}
    ],
    "leg1a": [
      {"item": "Placebo", "n": "N: GAL 2, 76; GAL 3, 72"},
      {"item": "GUS 200mg IV q4w → 100mg SC q8w", "n": "N: GAL 2, 143; GAL 3, 143"}
    ],
    "leg1b": [
      {"item": "GUS 200mg IV q4w → 200mg SC q4w", "n": "N: GAL 2, 146; GAL 3, 150"}
    ],
    "leg2": [
      {"item": "GUS 200mg IV q4w → 100mg SC q8w", "n": "N: Pooled, 286"},
      {"item": "GUS 200mg IV q4w → 200mg SC q4w", "n": "N: Pooled, 296"},
      {"item": "UST ~6mg/kg IV → 90mg SC q8w", "n": "N: Pooled, 291"}
    ],
    "box": [
      {"block": "Definitions"}
    ],
    "defs": [
      {"line": 1, "text": "Clinical Remission: CDAI < 150\u00a0\u00a0\u00a0\u00a0\u00a0\u00a0\u00a0\u00a0\u00a0\u00a0\u00a0\u00a0\u00a0\u00a0\u00a0\u00a0\u00a0\u00a0\u00a0\u00a0\u00a0\u00a0Clinical Response: ≥100-point reduction from baseline in CDAI or CDAI < 150"},
      {"line": 2, "text": "Endoscopic Response: ≥50% improvement from baseline in SES-CD or SES-CD ≤ 2\u00a0\u00a0\u00a0\u00a0\u00a0\u00a0\u00a0\u00a0\u00a0\u00a0\u00a0\u00a0\u00a0\u00a0\u00a0\u00a0\u00a0\u00a0\u00a0\u00a0\u00a0\u00a0Deep Remission: Clinical Remission AND Endoscopic Remission"},
      {"line": 3, "text": "Endoscopic Remission: SES-CD ≤ 4 and a ≥2-point reduction from baseline and no subscore greater than 1 in any individual component"}
    ]
  },
  "config": {
    "font": "Lato",
    "view": {"stroke": null},
    "text": {"font": "Lato"},
    "title": {"font": "Lato"},
    "axis": {"labelFont": "Lato", "titleFont": "Lato", "labelOverlap": false},
    "axisY": {"labelOverlap": false, "labelFlush": false, "labelBound": false, "grid": false, "tickSize": 4, "tickColor": "#6d6d6d", "domainColor": "#6d6d6d", "labelFontSize": 9, "labelFontWeight": "bold", "labelColor": "#404040", "labelPadding": 2, "titleFontWeight": "bold", "titleColor": "#262626", "minExtent": 0}
  }
}
